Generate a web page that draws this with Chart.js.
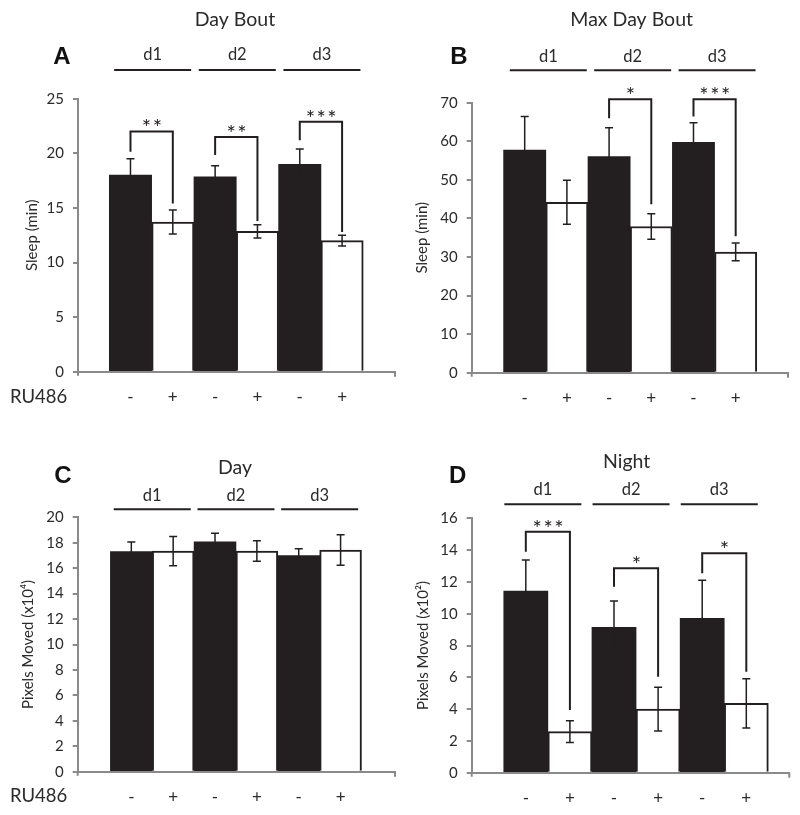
<!DOCTYPE html>
<html lang="en">
<head>
  <meta charset="UTF-8">
  <title>Sleep and activity after RU486</title>
  <script src="https://cdn.jsdelivr.net/npm/chart.js"></script>
  <style>
    body { margin: 0; background: #fff; }
    #page { position: relative; width: 800px; height: 815px; overflow: hidden; }
    canvas { position: absolute; }
  </style>
</head>
<body>
  <div id="page">
    <canvas id="chartA" width="400" height="412" style="left:0;top:0"></canvas>
    <canvas id="chartB" width="400" height="412" style="left:400px;top:0"></canvas>
    <canvas id="chartC" width="400" height="415" style="left:0;top:400px"></canvas>
    <canvas id="chartD" width="400" height="415" style="left:400px;top:400px"></canvas>
  </div>

  <script>
    // bar order: d1 -, d1 +, d2 -, d2 +, d3 -, d3 +
    const xLabels = ['-', '+', '-', '+', '-', '+']
    const days = ['d1', 'd2', 'd3']

    // A - day bout (min)
    const boutMean = [18.0, 13.7, 17.85, 12.85, 19.0, 12.0]
    const boutErr = [1.5, 1.1, 1.0, 0.6, 1.4, 0.5]
    const boutSig = ['**', '**', '***']
    const boutSigTop = [22.0, 21.5, 22.9]
    const boutSigLeft = [20.15, 19.85, 21.2]
    const boutSigRight = [15.4, 13.8, 12.8]

    // B - max day bout (min)
    const maxMean = [57.7, 44.2, 56.0, 37.9, 59.7, 31.3]
    const maxErr = [8.7, 5.7, 7.5, 3.3, 5.1, 2.3]
    const maxSig = ['', '*', '***']
    const maxSigTop = [null, 70.9, 70.9]
    const maxSigLeft = [null, 66.0, 66.4]
    const maxSigRight = [null, 43.7, 35.4]

    // C - day activity (x10^4 px)
    const dayMean = [17.3, 17.35, 18.08, 17.35, 17.0, 17.43]
    const dayErr = [0.76, 1.15, 0.66, 0.8, 0.53, 1.2]

    // D - night activity (x10^2 px)
    const nightMean = [11.43, 2.58, 9.14, 4.0, 9.71, 4.36]
    const nightErr = [1.95, 0.68, 1.66, 1.38, 2.4, 1.55]
    const nightSig = ['***', '*', '*']
    const nightSigTop = [15.16, 12.86, 13.8]
    const nightSigLeft = [13.9, 11.7, 12.54]
    const nightSigRight = [3.94, 6.04, 6.35]

    const BLACK = '#231f20'
    const GREY = '#8a8a8a'
    const TEXT = '#2b2b2b'
    const FONT = 'Lato'

    Chart.defaults.font.family = FONT
    Chart.defaults.color = TEXT

    const panels = [
      { id: 'chartA', letter: 'A', title: 'Day Bout', yTitle: 'Sleep (min)',
        mean: boutMean, err: boutErr, sig: boutSig, sigTop: boutSigTop, sigLeft: boutSigLeft, sigRight: boutSigRight,
        yMax: 25, yStep: 5, xMin: -0.24, xMax: 7.25, h: 412,
        area: { left: 78, right: 395, top: 98.7, bottom: 371.7 }, yTitlePad: 23,
        titleX: 235, titleY: 20, letterX: 62, letterY: 57, dayY: 55, lineY: 70, dayShift: 1, ru486Y: 397 },
      { id: 'chartB', letter: 'B', title: 'Max Day Bout', yTitle: 'Sleep (min)',
        mean: maxMean, err: maxErr, sig: maxSig, sigTop: maxSigTop, sigLeft: maxSigLeft, sigRight: maxSigRight,
        yMax: 70, yStep: 10, xMin: -0.256, xMax: 7.24, h: 412,
        area: { left: 71.7, right: 388, top: 102.7, bottom: 372.7 }, yTitlePad: 12.7,
        titleX: 231.7, titleY: 20, letterX: 59, letterY: 57, dayY: 57, lineY: 70.3, dayShift: 2.5, ru486Y: null },
      { id: 'chartC', letter: 'C', title: 'Day', yTitle: 'Pixels Moved (x10\u2074)',
        mean: dayMean, err: dayErr, sig: [], sigTop: [], sigLeft: [], sigRight: [],
        yMax: 20, yStep: 2, xMin: -0.281, xMax: 7.30, h: 415,
        area: { left: 77.7, right: 395, top: 117.3, bottom: 371.7 }, yTitlePad: 19,
        titleX: 235, titleY: 67.7, letterX: 63, letterY: 76, dayY: 96, lineY: 109.3, dayShift: 0, ru486Y: 396 },
      { id: 'chartD', letter: 'D', title: 'Night', yTitle: 'Pixels Moved (x10\u00b2)',
        mean: nightMean, err: nightErr, sig: nightSig, sigTop: nightSigTop, sigLeft: nightSigLeft, sigRight: nightSigRight,
        yMax: 16, yStep: 2, xMin: -0.227, xMax: 6.975, h: 415,
        area: { left: 71.7, right: 389.3, top: 118.3, bottom: 372.7 }, yTitlePad: 14.3,
        titleX: 226.7, titleY: 61.7, letterX: 57.7, letterY: 76, dayY: 90, lineY: 104.3, dayShift: -5, ru486Y: null }
    ]

    // error bars, brackets, panel titles, day lines
    const decor = {
      id: 'decor',
      afterDraw(chart) {
        const p = chart.options.plugins.decor.panel
        const { ctx } = chart
        const xs = chart.scales.x
        const ys = chart.scales.y
        ctx.save()

        // small ticks at both ends of the x axis
        ctx.strokeStyle = GREY
        ctx.lineWidth = 2
        ctx.beginPath()
        ctx.moveTo(chart.chartArea.right, chart.chartArea.bottom)
        ctx.lineTo(chart.chartArea.right, chart.chartArea.bottom + 5)
        ctx.moveTo(chart.chartArea.left, chart.chartArea.bottom)
        ctx.lineTo(chart.chartArea.left, chart.chartArea.bottom + 4)
        ctx.stroke()

        // error bars
        ctx.strokeStyle = BLACK
        ctx.lineWidth = 1.5
        p.mean.forEach((m, i) => {
          const x = xs.getPixelForValue(i + 1)
          const yt = ys.getPixelForValue(m + p.err[i])
          const yb = ys.getPixelForValue(m - p.err[i])
          ctx.beginPath()
          ctx.moveTo(x, yb); ctx.lineTo(x, yt)
          ctx.moveTo(x - 4, yt); ctx.lineTo(x + 4, yt)
          ctx.moveTo(x - 4, yb); ctx.lineTo(x + 4, yb)
          ctx.stroke()
        })

        // significance brackets
        ctx.lineWidth = 2
        ctx.fillStyle = BLACK
        ctx.font = '22px ' + FONT
        ctx.letterSpacing = '1.5px'
        ctx.textAlign = 'center'
        ctx.textBaseline = 'alphabetic'
        p.sig.forEach((s, k) => {
          if (!s) return
          const xl = xs.getPixelForValue(2 * k + 1)
          const xr = xs.getPixelForValue(2 * k + 2)
          const yTop = ys.getPixelForValue(p.sigTop[k])
          ctx.beginPath()
          ctx.moveTo(xl, ys.getPixelForValue(p.sigLeft[k]))
          ctx.lineTo(xl, yTop)
          ctx.lineTo(xr, yTop)
          ctx.lineTo(xr, ys.getPixelForValue(p.sigRight[k]))
          ctx.stroke()
          ctx.fillText(s, (xl + xr) / 2 + 1, yTop + 4)
        })
        ctx.letterSpacing = '0px'

        // titles
        ctx.textBaseline = 'middle'
        ctx.fillStyle = TEXT
        ctx.font = '19.5px ' + FONT
        ctx.fillText(p.title, p.titleX, p.titleY)
        ctx.font = 'bold 24px "Liberation Sans"'
        ctx.fillStyle = '#111'
        ctx.fillText(p.letter, p.letterX, p.letterY)

        // day labels and lines
        ctx.font = '16.5px ' + FONT
        ctx.fillStyle = TEXT
        ctx.strokeStyle = BLACK
        ctx.lineWidth = 2
        days.forEach((d, k) => {
          const cx = xs.getPixelForValue(2 * k + 1.5) + p.dayShift
          ctx.fillText(d, cx, p.dayY)
          ctx.beginPath()
          ctx.moveTo(cx - 38.5, p.lineY)
          ctx.lineTo(cx + 38.5, p.lineY)
          ctx.stroke()
        })

        if (p.ru486Y) {
          ctx.textAlign = 'left'
          ctx.font = '18.5px ' + FONT
          ctx.fillText('RU486', 10, p.ru486Y)
        }
        ctx.restore()
      }
    }

    panels.forEach(p => {
      const a = p.area
      new Chart(document.getElementById(p.id), {
        type: 'bar',
        data: {
          datasets: [{
            data: p.mean.map((m, i) => ({ x: i + 1, y: m })),
            backgroundColor: p.mean.map((m, i) => i % 2 ? '#ffffff' : BLACK),
            borderColor: BLACK,
            borderWidth: p.mean.map((m, i) => i % 2 ? 2 : 0),
            barPercentage: 1,
            categoryPercentage: 1
          }]
        },
        options: {
          responsive: false,
          animation: false,
          devicePixelRatio: 1,
          layout: { padding: { left: 0, top: a.top, right: 400 - a.right, bottom: 0 } },
          scales: {
            x: {
              type: 'linear',
              offset: false,
              min: p.xMin,
              max: p.xMax,
              afterFit: s => { s.height = p.h - a.bottom },
              afterBuildTicks: s => { s.ticks = xLabels.map((l, i) => ({ value: i + 1 })) },
              ticks: {
                autoSkip: false,
                maxRotation: 0,
                padding: 16,
                font: { size: 17 },
                color: TEXT,
                callback: v => xLabels[v - 1]
              },
              grid: { offset: false, drawOnChartArea: false, drawTicks: false },
              border: { color: GREY, width: 2 }
            },
            y: {
              min: 0,
              max: p.yMax,
              afterFit: s => { s.width = a.left },
              ticks: { stepSize: p.yStep, padding: 9, font: { size: 15 }, color: TEXT },
              grid: { drawOnChartArea: false, drawTicks: true, tickLength: 5, color: GREY, lineWidth: 2 },
              border: { color: GREY, width: 2 },
              title: { display: true, text: p.yTitle, font: { size: 15 }, color: TEXT, padding: { top: p.yTitlePad, bottom: 0 } }
            }
          },
          plugins: {
            legend: { display: false },
            tooltip: { enabled: false },
            decor: { panel: p }
          }
        },
        plugins: [decor]
      })
    })
  </script>
</body>
</html>
